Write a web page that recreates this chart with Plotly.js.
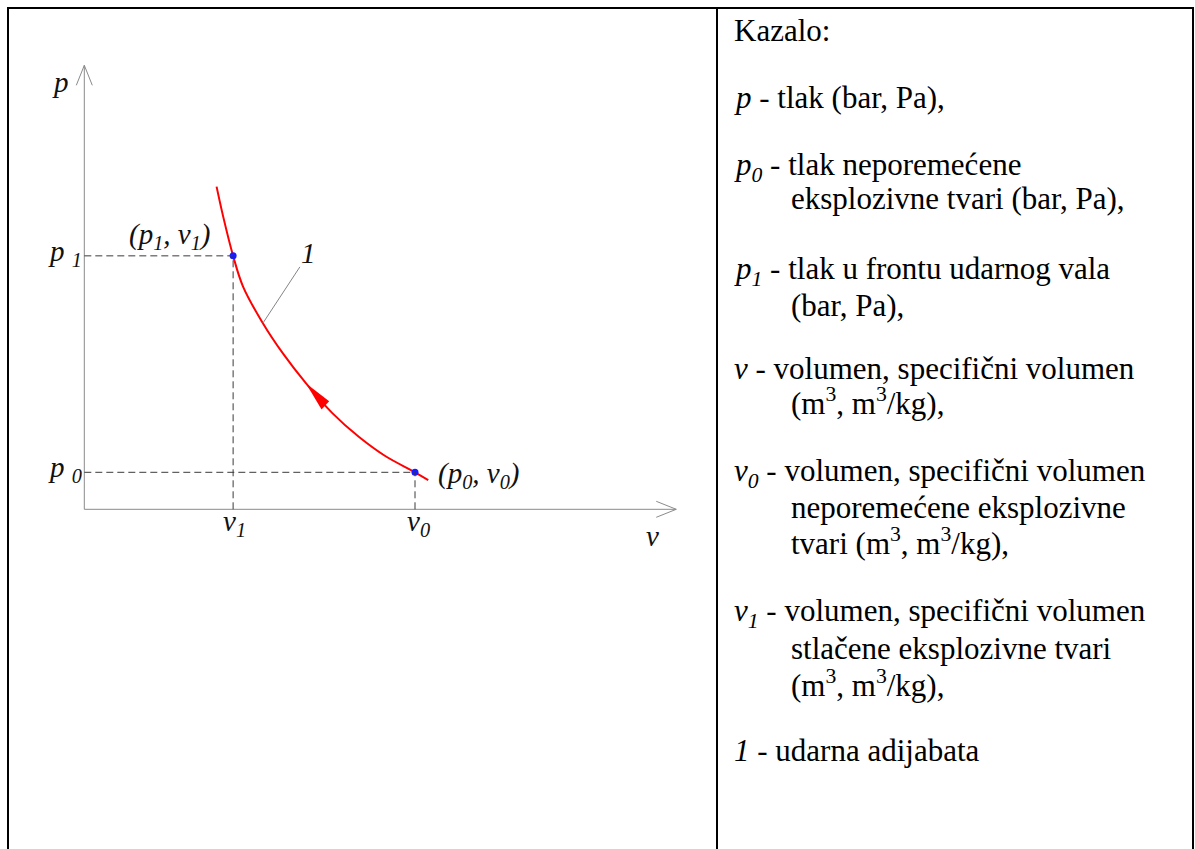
<!DOCTYPE html>
<html>
<head>
<meta charset="utf-8">
<script src="https://cdn.plot.ly/plotly-3.0.1.min.js"></script>
<style>
html,body{margin:0;padding:0;background:#fff;}
#chart{width:1195px;height:849px;}
</style>
</head>
<body>
<div id="chart"></div>
<script>
// ---------- data (arbitrary units: v0 = 1, p0 = 1) ----------
const curveV = [0.40, 0.42, 0.45, 0.48, 0.54, 0.60, 0.67, 0.75, 0.83, 0.91, 1.00, 1.04];
const curveP = [8.72, 7.91, 6.85, 6.02, 5.03, 4.22, 3.41, 2.60, 1.96, 1.44, 1.00, 0.79];
const stateV = [0.45, 1.00];          // v1, v0
const stateP = [6.85, 1.00];          // p1, p0
const axisEndV = 1.79;
const axisEndP = 12.0;

const axisTitleP = '<i>p</i>';
const axisTitleV = '<i>v</i>';
const tickLabelsP = ['<i>p <sub>1</sub></i>', '<i>p <sub>0</sub></i>'];
const tickLabelsV = ['<i>v<sub>1</sub></i>', '<i>v<sub>0</sub></i>'];
const stateLabels = ['<i>(p<sub>1</sub>, v<sub>1</sub>)</i>', '<i>(p<sub>0</sub>, v<sub>0</sub>)</i>'];
const curveLabel = '<i>1</i>';

const legendLines = [
  'Kazalo:',
  '<i>p</i> - tlak (bar, Pa),',
  '<i>p<sub>0</sub></i> - tlak neporemećene',
  'eksplozivne tvari (bar, Pa),',
  '<i>p<sub>1</sub></i> - tlak u frontu udarnog vala',
  '(bar, Pa),',
  '<i>v</i> - volumen, specifični volumen',
  '(m<sup>3</sup>, m<sup>3</sup>/kg),',
  '<i>v<sub>0</sub></i> - volumen, specifični volumen',
  'neporemećene eksplozivne',
  'tvari (m<sup>3</sup>, m<sup>3</sup>/kg),',
  '<i>v<sub>1</sub></i> - volumen, specifični volumen',
  'stlačene eksplozivne tvari',
  '(m<sup>3</sup>, m<sup>3</sup>/kg),',
  '<i>1</i> - udarna adijabata'
];
const legendIndent = [false,false,false,true,false,true,false,true,false,true,true,false,true,true,false];

// ---------- layout geometry ----------
const W = 1195, H = 849;
const OX = 84.3, OY = 509.3;        // pixel position of the axis origin
const PX_V = 330.7, PX_P = 37;      // pixels per unit
const LEG_BASE = [40, 107, 174, 208, 278, 315, 378, 415, 480, 517, 555, 620, 658, 697, 760];
const LEG_X = 732, LEG_X_IND = 789, LEG_FS = 31;
const FS = 29;
const SERIF = 'Liberation Serif';

function lab(text, x, y, dx, baseDy, xanchor) {
  return {text, x, y, xref:'x', yref:'y', showarrow:false, xanchor, yanchor:'top',
          xshift:dx, yshift: 1 + 0.891*FS - baseDy,
          font:{family:SERIF, size:FS, color:'#111'}};
}

const annotations = [
  lab(axisTitleP, 0, axisEndP, -24, 26, 'center'),
  lab(axisTitleV, axisEndV, 0, -24, 35.7, 'center'),
  lab(tickLabelsP[0], 0, stateP[0], 0, 3.5, 'right'),
  lab(tickLabelsP[1], 0, stateP[1], 0, 3.7, 'right'),
  lab(tickLabelsV[0], stateV[0], 0, 1, 20.7, 'center'),
  lab(tickLabelsV[1], stateV[1], 0, 3, 20.7, 'center'),
  lab(stateLabels[0], stateV[0], stateP[0], -20, -13, 'right'),
  lab(stateLabels[1], stateV[1], stateP[1], 21, 9.2, 'left'),
  {text:curveLabel, x:curveV[4], y:curveP[4], xref:'x', yref:'y', showarrow:true,
   arrowhead:0, arrowwidth:1, arrowcolor:'#858585', ax:46, ay:-70,
   font:{family:SERIF, size:FS, color:'#111'}}
];

legendLines.forEach((t, i) => {
  const hasSup = t.indexOf('<sup>') >= 0;
  const base = LEG_BASE[i];
  const py = hasSup ? base + 0.216*LEG_FS + 1 : base - 1 - 0.891*LEG_FS;
  annotations.push({
    text: t, xref:'paper', yref:'paper',
    x: (legendIndent[i] ? LEG_X_IND : LEG_X)/W, y: 1 - py/H,
    xanchor:'left', yanchor: hasSup ? 'bottom' : 'top',
    showarrow:false, align:'left',
    font:{family:SERIF, size:LEG_FS, color:'#000'}
  });
});

const axisLine = {color:'#8a8a8a', width:1};
const dashLine = {color:'#3a3a3a', width:1, dash:'7px,4px'};

const shapes = [
  // table frame
  {type:'rect', xref:'paper', yref:'paper', x0:8/W, x1:1193/W, y0:1-8/H, y1:-0.05,
   line:{color:'#000', width:2}, fillcolor:'rgba(0,0,0,0)'},
  {type:'line', xref:'paper', yref:'paper', x0:717/W, x1:717/W, y0:1-8/H, y1:-0.05,
   line:{color:'#000', width:2}},
  // axes
  {type:'line', xref:'x', yref:'y', x0:0, x1:0, y0:0, y1:axisEndP, line:axisLine},
  {type:'line', xref:'x', yref:'y', x0:0, x1:axisEndV, y0:0, y1:0, line:axisLine},
  {type:'path', xref:'x', yref:'y', xsizemode:'pixel', ysizemode:'pixel',
   xanchor:axisEndV, yanchor:0, path:'M-20,8 L0,0 L-20,-8', line:axisLine},
  {type:'path', xref:'x', yref:'y', xsizemode:'pixel', ysizemode:'pixel',
   xanchor:0, yanchor:axisEndP, path:'M-8,-20 L0,0 L8,-20', line:axisLine},
  // dashed guides
  {type:'line', xref:'x', yref:'y', x0:0, x1:stateV[0], y0:stateP[0], y1:stateP[0], line:dashLine},
  {type:'line', xref:'x', yref:'y', x0:stateV[0], x1:stateV[0], y0:0, y1:stateP[0], line:dashLine},
  {type:'line', xref:'x', yref:'y', x0:0, x1:stateV[1], y0:stateP[1], y1:stateP[1], line:dashLine},
  {type:'line', xref:'x', yref:'y', x0:stateV[1], x1:stateV[1], y0:0, y1:stateP[1], line:dashLine},
  // direction arrow on the curve
  {type:'path', xref:'x', yref:'y', xsizemode:'pixel', ysizemode:'pixel',
   xanchor:curveV[6], yanchor:curveP[6], path:'M0,0 L15.7,-26.3 L23.3,-18 Z',
   fillcolor:'#ff0000', line:{width:0}}
];

const traces = [
  {x:curveV, y:curveP, type:'scatter', mode:'lines',
   line:{color:'#ff0000', width:2, shape:'spline', smoothing:1}, hoverinfo:'skip'},
  {x:stateV, y:stateP, type:'scatter', mode:'markers',
   marker:{color:'#1a1aff', size:7}, hoverinfo:'skip'}
];

const layout = {
  width:W, height:H, margin:{l:0, r:0, t:0, b:0},
  paper_bgcolor:'#fff', plot_bgcolor:'rgba(0,0,0,0)',
  showlegend:false, hovermode:false,
  font:{family:SERIF},
  xaxis:{range:[-OX/PX_V, (W-OX)/PX_V], visible:false, fixedrange:true},
  yaxis:{range:[-(H-OY)/PX_P, OY/PX_P], visible:false, fixedrange:true},
  shapes, annotations
};

Plotly.newPlot('chart', traces, layout, {staticPlot:true, displayModeBar:false});
</script>
</body>
</html>
